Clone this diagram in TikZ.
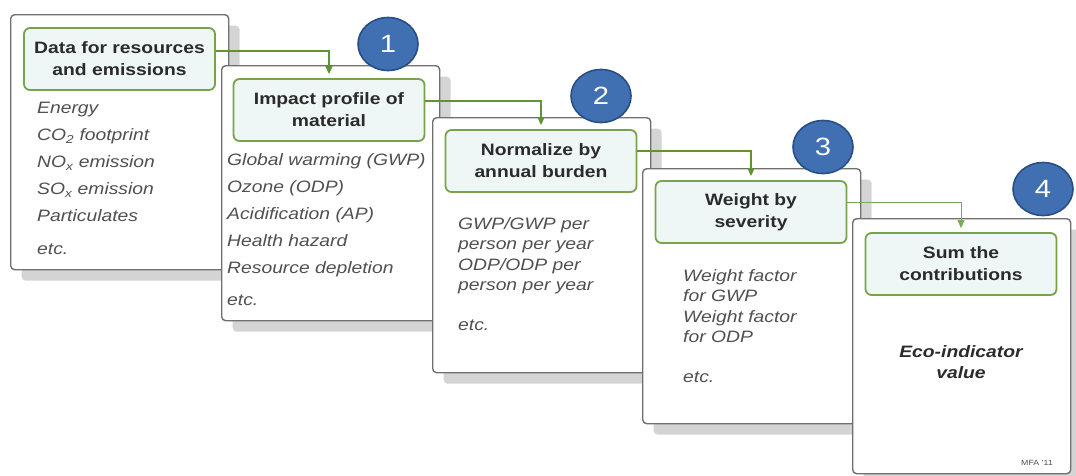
\documentclass[tikz,border=0pt]{standalone}
\usepackage{fontspec}
\setmainfont[FakeStretch=1.17]{Liberation Sans}
\usetikzlibrary{shadows,arrows.meta,shapes.geometric}
\definecolor{cardline}{HTML}{707070}
\definecolor{hdrline}{HTML}{76A34B}
\definecolor{hdrfill}{HTML}{EEF7F5}
\definecolor{flowgreen}{HTML}{5F9434}
\definecolor{flowlight}{HTML}{7DAA58}
\definecolor{badgefill}{HTML}{4070B2}
\definecolor{badgeline}{HTML}{284F85}
\definecolor{itemgray}{HTML}{505050}
\definecolor{hdrtext}{HTML}{2B2B2B}
\definecolor{shadowgray}{HTML}{D4D4D4}

\tikzset{
  card/.style={draw=cardline, line width=1.4pt, fill=white, rounded corners=4pt,
    anchor=north west, minimum width=218pt, minimum height=255pt, inner sep=0pt,
    drop shadow={shadow xshift=11pt, shadow yshift=-11pt, fill=shadowgray, opacity=1}},
  hdr/.style={draw=hdrline, line width=1.8pt, fill=hdrfill, rounded corners=6pt,
    minimum width=191pt, minimum height=62pt, inner sep=0pt, align=center,
    font=\fontsize{16.5}{22}\selectfont\bfseries, text=hdrtext},
  items/.style={anchor=north west, align=left, inner sep=0pt,
    font=\fontsize{16.5}{27}\selectfont\itshape, text=itemgray},
  tightitems/.style={items, font=\fontsize{16.5}{20.5}\selectfont\itshape},
  flow/.style={draw=flowgreen, line width=1.6pt, shorten >=4pt,
    -{Triangle[length=8pt,width=7pt]}},
  badge/.style={ellipse, draw=badgeline, line width=1.6pt, fill=badgefill,
    minimum width=60pt, minimum height=53pt, inner sep=0pt, text=white,
    font=\fontsize{25}{25}\selectfont},
}

\begin{document}
\begin{tikzpicture}[x=1pt,y=-1pt]
  \useasboundingbox[fill=white] (0,0) rectangle (1076,475);

  % Card 1: inventory data
  \node[card] (c1) at (10,14) {};
  \node[hdr] (h1) at (119.5,59) {Data for resources\\and emissions};
  \node[items] (l1) at (37,102) {Energy\\CO\textsubscript{2} footprint\\NO\textsubscript{x} emission\\SO\textsubscript{x} emission\\Particulates\\[6pt]etc.};

  % Card 2: impact profile
  \node[card] (c2) at (221,65) {};
  \node[hdr] (h2) at (329,110) {Impact profile of\\material};
  \node[items] (l2) at (227,153.5) {Global warming (GWP)\\Ozone (ODP)\\Acidification (AP)\\Health hazard\\Resource depletion\\[5pt]etc.};

  % Card 3: normalisation
  \node[card] (c3) at (432,117) {};
  \node[hdr] (h3) at (541,161) {Normalize by\\annual burden};
  \node[tightitems] (l3) at (458,217) {GWP/GWP per\\person per year\\ODP/ODP per\\person per year\\[19pt]etc.};

  % Card 4: weighting
  \node[card] (c4) at (642,168) {};
  \node[hdr] (h4) at (751,212) {Weight by\\severity};
  \node[tightitems] (l4) at (683,269) {Weight factor\\for GWP\\Weight factor\\for ODP\\[19pt]etc.};

  % Card 5: summation
  \node[card] (c5) at (852,218) {};
  \node[hdr] (h5) at (961,264) {Sum the\\contributions};
  \node[align=center, inner sep=0pt, text=hdrtext,
    font=\fontsize{16.5}{21}\selectfont\bfseries\itshape] (eco) at (961,362) {Eco-indicator\\value};
  \node[inner sep=0pt, text=itemgray, font=\fontsize{7.5}{8}\selectfont] (mfa) at (1037,463) {MFA '11};

  % Flow between the step headers
  \draw[flow] ([yshift=8pt]h1.east) -| (h2.north);
  \draw[flow] ([yshift=9pt]h2.east) -| (h3.north);
  \draw[flow] ([yshift=10pt]h3.east) -| (h4.north);
  \draw[flow, draw=flowlight, line width=1pt] ([yshift=10pt]h4.east) -| (h5.north);

  % Step badges
  \node[badge] (b1) at (388,44) {1};
  \node[badge] (b2) at (601,96) {2};
  \node[badge] (b3) at (823,147) {3};
  \node[badge] (b4) at (1043,189) {4};
\end{tikzpicture}
\end{document}
